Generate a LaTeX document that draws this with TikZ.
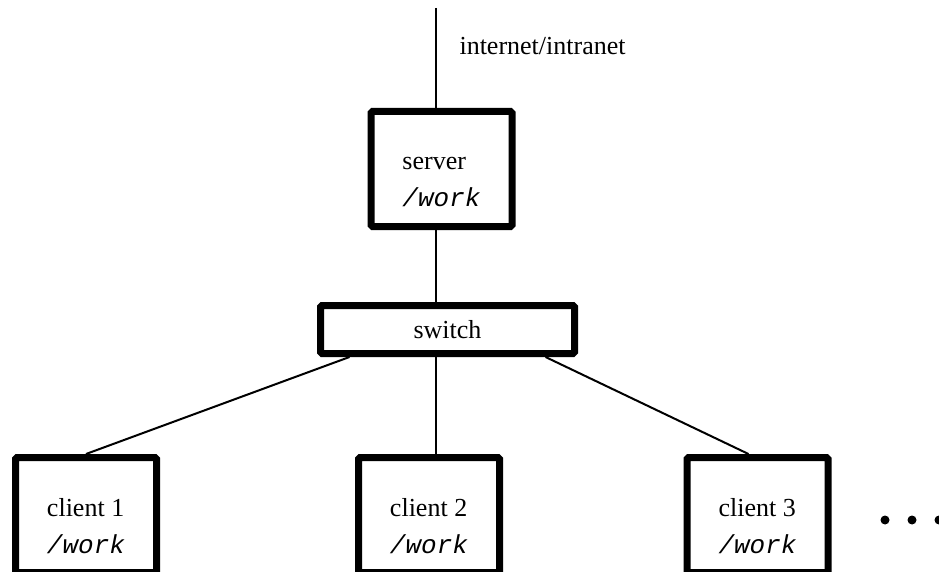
\documentclass[tikz,border=0pt]{standalone}
\usepackage{fontspec}
\setmainfont{Liberation Serif}
\setmonofont{Liberation Mono}

\begin{document}
\begin{tikzpicture}[x=1pt,y=-1pt,font=\fontsize{26}{37}\selectfont,
  box/.style={draw,line width=7pt,rounded corners=1.5pt,
    minimum width=141pt,minimum height=115pt,align=left,
    text height=80pt,text depth=4pt},
  wire/.style={line width=2pt}]

\useasboundingbox (0,0) rectangle (939,572);

% machines
\node[box] (server) at (441.5,169) {server\\\texttt{\itshape /work}};
\node[draw,line width=7pt,rounded corners=1.5pt,minimum width=254pt,
  minimum height=48pt] (switch) at (447.5,329.5) {switch};
\node[box] (client1) at (86,515) {client 1\\\texttt{\itshape /work}};
\node[box] (client2) at (429,515) {client 2\\\texttt{\itshape /work}};
\node[box] (client3) at (757.5,515) {client 3\\\texttt{\itshape /work}};

% uplink
\coordinate (inet) at (436,8);
\node[anchor=base west] (inettext) at (456,55) {internet/intranet};

\begin{scope}[wire]
\draw (inet) -- (inet |- server.north);
\draw (server.south -| inet) -- (switch.north -| inet);
\draw (switch.south -| inet) -- (client2.north -| inet);
\draw ([xshift=32.5pt]switch.south west) -- (client1.north);
\draw ([xshift=-32.5pt]switch.south east) -- ([xshift=-9pt]client3.north);
\end{scope}

\foreach \x in {885,912,939}{
\fill (\x,520) circle (4.5pt);
}
\end{tikzpicture}
\end{document}
